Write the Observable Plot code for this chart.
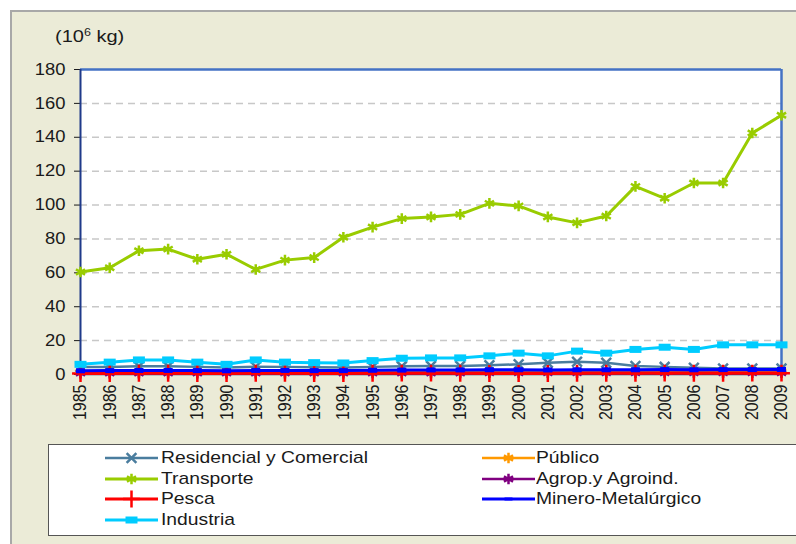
<!DOCTYPE html>
<html>
<head>
<meta charset="utf-8">
<script src="https://cdn.jsdelivr.net/npm/d3@7"></script>
<script src="https://cdn.jsdelivr.net/npm/@observablehq/plot@0.6"></script>
<style>
  html, body { margin:0; padding:0; background:#ffffff; overflow:hidden; }
  #page { position:relative; width:796px; height:544px; overflow:hidden; font-family:"Liberation Sans", Arial, sans-serif; }
  #panel { position:absolute; left:10px; top:10px; width:790px; height:540px; background:#EBEBD7; border-top:2px solid #a8a8a8; border-left:2px solid #a8a8a8; }
  #chart { position:absolute; left:0; top:0; }
  #ylabel { position:absolute; left:55px; top:27px; font-size:16px; color:#1a1a1a; transform:scaleX(1.25); transform-origin:left center; white-space:nowrap; }
  #ylabel sup { font-size:10px; }
  #legend { position:absolute; left:48px; top:444px; width:770px; height:90px; background:#fff; border:1.5px solid #555; }
  .sw { position:absolute; }
  .lbl { position:absolute; font-size:17px; line-height:20px; color:#1a1a1a; white-space:nowrap; transform:scaleX(1.135); transform-origin:left center; }
</style>
</head>
<body>
<div id="page">
  <div id="panel"></div>
  <div id="chart"></div>
  <div id="ylabel">(10<sup>6</sup> kg)</div>
  <div id="legend"></div>
</div>
<script>
const years = [1985,1986,1987,1988,1989,1990,1991,1992,1993,1994,1995,1996,1997,1998,1999,2000,2001,2002,2003,2004,2005,2006,2007,2008,2009];
const yTicks = [0,20,40,60,80,100,120,140,160,180];
const gridTicks = [20,40,60,80,100,120,140,160];

const series = ["Residencial y Comercial","Público","Transporte","Agrop.y Agroind.","Pesca","Minero-Metalúrgico","Industria"];
const colors = ["#4A7D9E","#FF9900","#99CC00","#800080","#FF0000","#0000FF","#00CCFF"];

const residencial = [4.5,4.5,4.8,4.8,4.5,4.2,4.6,4.5,4.3,4.2,4.5,4.8,5.0,5.0,5.5,6.0,7.0,7.5,7.0,5.0,4.5,4.0,3.5,3.5,3.5];
const publico     = [1.5,1.5,1.5,1.5,1.5,1.5,1.5,1.5,1.5,1.5,1.6,1.8,1.8,1.8,2.0,2.0,2.0,2.0,2.0,2.0,2.0,2.0,2.0,2.0,2.0];
const transporte  = [60.5,63,73,74,68,71,62,67.5,69,81,87,92,93,94.5,101,99.5,93,89.5,93.5,111,104,113,113,142.5,153];
const agrop       = [0.8,0.8,0.8,0.8,0.8,0.8,0.8,0.8,0.8,0.8,0.9,0.9,0.9,0.9,1.0,1.0,1.0,1.0,1.0,1.0,1.0,1.0,1.0,1.0,1.0];
const pesca       = [0.6,0.6,0.7,0.7,0.6,0.6,0.7,0.7,0.6,0.6,0.7,0.8,0.8,0.7,0.6,0.6,0.6,0.7,0.7,0.7,0.8,0.7,0.7,0.8,0.8];
const minero      = [2.2,2.3,2.4,2.4,2.3,2.2,2.4,2.4,2.3,2.3,2.5,2.6,2.7,2.7,2.8,2.8,2.7,2.8,2.8,2.8,2.9,2.8,2.9,2.9,3.0];
const industria   = [6.0,7.3,8.6,8.6,7.3,6.0,8.6,7.3,7.0,6.8,8.2,9.6,9.8,9.8,11.0,12.6,11.0,13.8,12.6,14.8,16.1,14.8,17.5,17.5,17.5];

const values = [residencial, publico, transporte, agrop, pesca, minero, industria];

// custom symbols
const symRect = { draw(ctx){ ctx.rect(-6,-3.5,12,7); } };
const symDash = { draw(ctx){ ctx.rect(-4.5,-2.5,9,5); } };
const symDashSmall = { draw(ctx){ ctx.rect(-4,-1.5,8,3); } };
const symbols = [d3.symbolTimes, d3.symbolAsterisk, d3.symbolAsterisk, d3.symbolAsterisk, d3.symbolPlus, symDash, symRect];
const legendSymbols = [d3.symbolTimes, d3.symbolAsterisk, d3.symbolAsterisk, d3.symbolAsterisk, d3.symbolPlus, symDashSmall, symRect];
const filled = [false,false,false,false,false,true,true];
const lineWidths = [2.5,2.5,3,2.5,3,3,3];
const markR = [4.5,5,5,5,5.5,4,4];

const data = series.map((s,i) => years.map((yr,j) => ({series:s, year:yr, value:values[i][j]})));

const marks = [
  Plot.frame({fill:"white", stroke:null}),
  Plot.ruleY(gridTicks, {stroke:"#c8c8c8", strokeWidth:1.5, strokeDasharray:"7,5"}),
  Plot.ruleY([180], {stroke:"#4472C4", strokeWidth:2.5}),
  Plot.ruleX([2009], {stroke:"#4472C4", strokeWidth:2.5}),
  Plot.ruleX([1985], {stroke:"#1F3A8A", strokeWidth:2}),
  Plot.ruleY([0], {stroke:"#1F3A8A", strokeWidth:1.5})
];
data.forEach((d,i) => {
  marks.push(Plot.line(d, {x:"year", y:"value", stroke:colors[i], strokeWidth:lineWidths[i]}));
  marks.push(Plot.dot(d, {x:"year", y:"value", symbol:() => symbols[i], r:markR[i],
    stroke: colors[i], strokeWidth: filled[i] ? 0 : 2.5, fill: filled[i] ? colors[i] : "none"}));
});

const chart = Plot.plot({
  width:796, height:434,
  marginLeft:80, marginRight:15, marginTop:69, marginBottom:60,
  style:{background:"transparent", fontFamily:"'Liberation Sans', Arial, sans-serif", fontSize:"16px", color:"#1a1a1a", overflow:"visible"},
  x:{type:"linear", domain:[1985,2009], ticks:years, tickFormat:d=>String(d), tickRotate:-90, tickSize:0, tickPadding:10, label:null},
  y:{domain:[0,180], ticks:yTicks, tickSize:6, tickPadding:9, label:null},
  symbol:{type:"identity"},
  marks
});
document.getElementById("chart").appendChild(chart);

// widen tick labels horizontally (the reference is stretched horizontally)
d3.select(chart).selectAll("text").each(function(){
  const r = this.getBoundingClientRect();
  const cx = r.left + r.width/2, cy = r.top + r.height/2;
  const bb = this.getBBox();
  const t = this.getAttribute("transform") || "";
  if (cx < 78) {
    const rx = bb.x + bb.width;
    this.setAttribute("transform", `${t} translate(${rx},0) scale(1.15,1) translate(${-rx},0)`);
  } else if (cy > 378) {
    const my = bb.y + bb.height/2;
    this.setAttribute("transform", `${t} translate(0,${my}) scale(1,1.15) translate(0,${-my})`);
  }
});

// legend
const legend = document.getElementById("legend");
const legLeft = 49.5, legTop = 445.5;
const lineX = [105, 482];
const textX = [161, 536];
const rowY = [458, 479, 499, 520];
series.forEach((s,i) => {
  const col = i % 2, row = Math.floor(i/2);
  const svg = d3.create("svg").attr("class","sw").attr("width",54).attr("height",20)
    .style("left", (lineX[col]-legLeft) + "px").style("top", (rowY[row]-10-legTop) + "px");
  svg.append("line").attr("x1",0).attr("x2",53).attr("y1",10).attr("y2",10)
     .attr("stroke",colors[i]).attr("stroke-width",lineWidths[i]);
  const size = Math.PI*markR[i]*markR[i];
  svg.append("path").attr("transform","translate(26.5,10)")
     .attr("d", d3.symbol(legendSymbols[i], size)())
     .attr("stroke", filled[i] ? "none" : colors[i]).attr("stroke-width",2.5)
     .attr("fill", filled[i] ? colors[i] : "none");
  legend.appendChild(svg.node());
  const t = document.createElement("div");
  t.className = "lbl";
  t.textContent = s;
  t.style.left = (textX[col]-legLeft) + "px";
  t.style.top = (rowY[row]-10-legTop) + "px";
  legend.appendChild(t);
});
</script>
</body>
</html>
